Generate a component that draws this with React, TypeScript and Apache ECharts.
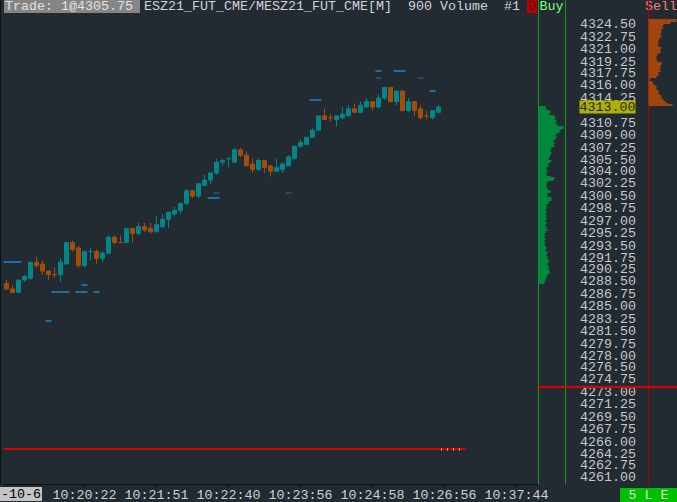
import React, { useEffect, useRef } from 'react';
import * as echarts from 'echarts';

// ---------- data ----------
const candleOpen = [
  4288.25, 4287.5, 4287.0, 4288.75, 4289.0, 4291.25, 4291.0, 4290.0, 4289.5, 4289.5,
  4291.0, 4294.0, 4293.25, 4290.75, 4292.75, 4292.75, 4291.75, 4292.5, 4294.75, 4294.0,
  4294.0, 4296.0, 4295.25, 4296.25, 4296.0, 4295.5, 4296.25, 4297.25, 4298.0, 4298.5,
  4299.5, 4301.25, 4300.5, 4302.0, 4302.75, 4303.75, 4305.25, 4305.75, 4305.25, 4307.0,
  4306.25, 4305.0, 4304.25, 4305.5, 4304.75, 4304.0, 4304.25, 4304.75, 4305.75, 4307.5,
  4307.75, 4308.75, 4309.75, 4311.75, 4311.5, 4311.25, 4311.5, 4311.75, 4312.75, 4312.25,
  4313.0, 4313.75, 4313.0, 4314.25, 4315.75, 4313.75, 4315.25, 4312.5, 4313.75, 4312.75,
  4311.75, 4311.5, 4312.25,
];
const candleClose = [
  4287.5, 4287.0, 4288.75, 4289.25, 4291.25, 4290.75, 4290.0, 4289.5, 4289.5, 4291.25,
  4294.0, 4293.0, 4290.75, 4292.75, 4292.75, 4291.75, 4292.5, 4294.75, 4294.0, 4294.0,
  4296.0, 4295.25, 4296.25, 4295.75, 4295.5, 4296.5, 4297.25, 4298.25, 4298.5, 4299.5,
  4301.25, 4300.5, 4302.25, 4302.75, 4303.75, 4305.25, 4305.5, 4305.75, 4307.0, 4306.25,
  4304.75, 4304.25, 4305.5, 4304.5, 4304.0, 4304.5, 4305.0, 4306.0, 4307.5, 4308.0,
  4308.75, 4309.75, 4311.75, 4311.25, 4311.5, 4311.75, 4312.0, 4312.75, 4312.25, 4313.25,
  4313.75, 4313.0, 4314.25, 4315.75, 4313.75, 4315.25, 4312.5, 4313.75, 4312.5, 4311.5,
  4311.75, 4312.5, 4313.0,
];
const candleLow = [
  4287.25, 4287.0, 4287.0, 4288.5, 4288.75, 4290.5, 4289.5, 4288.75, 4289.0, 4288.5,
  4291.0, 4292.75, 4290.5, 4290.5, 4291.5, 4291.0, 4291.25, 4292.5, 4293.75, 4294.0,
  4294.0, 4294.0, 4295.0, 4295.5, 4295.25, 4295.5, 4296.0, 4296.0, 4297.75, 4298.0,
  4299.25, 4300.25, 4300.25, 4302.0, 4302.25, 4303.5, 4304.75, 4304.5, 4305.25, 4306.0,
  4304.75, 4303.75, 4304.0, 4303.75, 4303.25, 4304.0, 4303.75, 4304.75, 4305.75, 4307.25,
  4307.75, 4308.75, 4309.75, 4311.25, 4311.0, 4310.25, 4311.25, 4311.75, 4312.25, 4312.25,
  4313.0, 4312.5, 4312.75, 4314.0, 4313.75, 4313.25, 4312.5, 4312.25, 4311.75, 4311.25,
  4311.25, 4311.25, 4312.25,
];
const candleHigh = [
  4288.75, 4288.0, 4288.75, 4289.5, 4291.25, 4292.0, 4291.5, 4290.0, 4290.5, 4291.75,
  4294.0, 4294.25, 4293.5, 4292.75, 4293.25, 4293.0, 4292.75, 4295.0, 4295.0, 4295.0,
  4296.0, 4296.0, 4296.75, 4296.75, 4296.75, 4297.75, 4298.0, 4298.25, 4299.0, 4299.5,
  4301.5, 4301.25, 4302.25, 4303.5, 4303.75, 4305.75, 4305.75, 4306.0, 4307.25, 4307.25,
  4306.75, 4305.75, 4305.75, 4305.5, 4304.75, 4305.75, 4305.25, 4306.25, 4307.5, 4308.5,
  4308.75, 4310.0, 4311.75, 4312.75, 4312.0, 4311.75, 4313.0, 4313.25, 4313.5, 4313.75,
  4314.25, 4313.75, 4314.75, 4315.75, 4315.75, 4315.25, 4315.25, 4314.25, 4313.75, 4313.25,
  4312.5, 4312.5, 4313.25,
];
// doji bars (open == close) that printed as up bars
const dojiUp = [14, 37];

const slotCount = 89;
const timeLabels = ['10:20:22', '10:21:51', '10:22:40', '10:23:56', '10:24:58', '10:26:56', '10:37:44'];
const timeLabelSlots = [13, 25, 37, 49, 61, 73, 85];

const priceLabels = [
  4324.5, 4322.75, 4321.0, 4319.25, 4317.75, 4316.0, 4314.25, 4310.75, 4309.0,
  4307.25, 4305.5, 4304.0, 4302.25, 4300.5, 4298.75, 4297.0, 4295.25, 4293.5, 4291.75,
  4290.25, 4288.5, 4286.75, 4285.0, 4283.25, 4281.5, 4279.75, 4278.0, 4276.5, 4274.75,
  4273.0, 4271.25, 4269.5, 4267.75, 4266.0, 4264.25, 4262.75, 4261.0,
];
const priceAxisMin = 4260.15;
const priceAxisMax = 4328.0;
const lastPrice = 4313.0;
const tickSize = 0.25;

// volume profile (one value per tick, from the top price downward)
const buyTopPrice = 4313.0;
const buyVolumes = [
  7, 8, 11, 12, 11, 16, 17, 16, 18, 17,
  19, 25, 25, 22, 21, 18, 17, 18, 17, 15,
  16, 15, 16, 13, 12, 12, 13, 12, 11, 10,
  13, 12, 10, 10, 8, 8, 9, 8, 8, 12,
  16, 15, 9, 8, 8, 8, 9, 12, 12, 9,
  9, 13, 13, 11, 10, 8, 8, 8, 7, 8,
  7, 8, 7, 8, 7, 8, 7, 8, 8, 9,
  7, 6, 7, 6, 7, 6, 7, 6, 7, 8,
  7, 8, 9, 8, 9, 9, 10, 10, 9, 10,
  11, 10, 11, 11, 9, 8, 8, 7, 6, 6,
];
const sellTopPrice = 4325.25;
const sellVolumes = [
  28, 28, 22, 15, 14, 15, 13, 13, 12, 13,
  12, 11, 10, 10, 9, 10, 13, 12, 12, 11,
  9, 8, 8, 9, 13, 13, 12, 12, 11, 12,
  10, 10, 8, 2, 1, 4, 5, 7, 8, 8,
  10, 10, 11, 13, 13, 15, 17, 20, 24,
];

// resting levels (first slot, last slot, price, strong)
const levelStart = [0, 13, 8, 12, 15, 7, 34, 35, 47, 51, 62, 65, 62, 69, 71];
const levelEnd = [2, 13, 10, 13, 15, 7, 35, 35, 47, 52, 62, 66, 62, 69, 71];
const levelPrice = [
  4291.25, 4288.0, 4287.0, 4287.0, 4287.0, 4283.0, 4300.25, 4301.0, 4301.0, 4314.0,
  4318.0, 4318.0, 4317.0, 4317.0, 4315.25,
];
const levelStrong = [1, 1, 1, 1, 1, 1, 1, 0, 0, 1, 1, 1, 0, 0, 1];

const stopPrice = 4265.0;
const stopFirstSlot = 0;
const stopLastSlot = 76;
const stopMarkSlots = [72, 73, 74, 75];
const profileLinePrice = 4273.75;

// ---------- styles ----------
const BG = '#222b32';
const FONT = '"Liberation Mono", "DejaVu Sans Mono", monospace';
const FS = 13.33;
const UP = '#00878a';
const DOWN = '#a24e08';

export default function App() {
  const ref = useRef<HTMLDivElement>(null);

  useEffect(() => {
    if (!ref.current) return;
    document.body.style.margin = '0';
    document.body.style.background = BG;
    const chart = echarts.init(ref.current, undefined, { renderer: 'svg' });

    const categories = Array.from({ length: slotCount }, (_, i) => String(i));
    const labelMap = new Map<number, string>();
    timeLabelSlots.forEach((s, k) => labelMap.set(s, timeLabels[k]));

    const candleData = candleOpen.map((o, i) => {
      const c = candleClose[i];
      const up = c > o || (c === o && dojiUp.includes(i));
      const col = up ? UP : DOWN;
      return {
        value: [o, c, candleLow[i], candleHigh[i]],
        itemStyle: { color: col, color0: col, borderColor: col, borderColor0: col, borderColorDoji: col },
      };
    });

    const levelData = levelStart.map((s, i) => [s, levelPrice[i], levelEnd[i], levelStrong[i]]);

    const segmentRender = (fill: string, thick: number, thin: number) => (params: any, api: any) => {
      const s = api.value(0);
      const p = api.value(1);
      const e = api.value(2);
      const strong = api.value(3);
      const a = api.coord([s, p]);
      const b = api.coord([e, p]);
      const band = api.size([1, 0])[0];
      const h = strong ? thick : thin;
      const x0 = a[0] - band / 2;
      const x1 = b[0] + band / 2;
      const yc = Math.round(a[1]);
      return {
        type: 'rect',
        shape: { x: x0, y: yc - h / 2, width: x1 - x0, height: h },
        style: { fill },
      };
    };

    const profileRender = (fill: string) => (params: any, api: any) => {
      const v = api.value(0);
      const p = api.value(1);
      const a = api.coord([0, p + tickSize / 2]);
      const b = api.coord([v, p - tickSize / 2]);
      const y0 = Math.round(a[1]);
      const y1 = Math.round(b[1]);
      return {
        type: 'rect',
        shape: { x: a[0], y: y0, width: b[0] - a[0], height: Math.max(1, y1 - y0) },
        style: { fill },
      };
    };

    const buyData = buyVolumes.map((v, k) => [v, buyTopPrice - k * tickSize]);
    const sellData = sellVolumes.map((v, k) => [v, sellTopPrice - k * tickSize]);

    const hiddenValueAxis = (gridIndex: number, min: number, max: number) => ({
      type: 'value', gridIndex, min, max, show: false,
      splitLine: { show: false },
    });
    const priceAxisBase = {
      type: 'value', min: priceAxisMin, max: priceAxisMax, scale: true,
      splitLine: { show: false }, axisTick: { show: false },
    };
    // two interleaved label axes so neighbouring labels never get auto-hidden
    const labelAxis = (values: number[]) => ({
      ...priceAxisBase, gridIndex: 0, position: 'right', offset: 0,
      axisLine: { show: false },
      axisLabel: {
        show: true, customValues: values,
        showMinLabel: true, showMaxLabel: true, hideOverlap: false,
        formatter: (v: number) => v.toFixed(2),
        color: '#c8c8c8', fontFamily: FONT, fontSize: FS, margin: 42.5, lineHeight: 11,
      },
    });

    const option: any = {
      animation: false,
      backgroundColor: BG,
      grid: [
        { left: 3.5, top: 0, width: 534, height: 484 },
        { left: 538.5, top: 0, width: 27, height: 484 },
        { left: 648.5, top: 0, width: 28.5, height: 484 },
        { left: 537.5, top: 0, width: 139.5, height: 484 },
      ],
      xAxis: [
        {
          type: 'category', gridIndex: 0, data: categories, boundaryGap: true,
          axisLine: { show: true, onZero: false, lineStyle: { color: '#0b0e11', width: 1 } },
          axisTick: {
            show: true, alignWithLabel: true, length: 4,
            interval: (i: number) => labelMap.has(i),
            lineStyle: { color: '#0b0e11' },
          },
          axisLabel: {
            show: true,
            interval: (i: number) => labelMap.has(i),
            formatter: (v: string) => labelMap.get(Number(v)) ?? '',
            color: '#d0d0d0', fontFamily: FONT, fontSize: FS, margin: 4, lineHeight: 14,
          },
          splitLine: { show: false },
        },
        hiddenValueAxis(1, 0, 27),
        hiddenValueAxis(2, 0, 28.5),
        hiddenValueAxis(3, 0, 139.5),
      ],
      yAxis: [
        labelAxis(priceLabels.filter((_, i) => i % 2 === 0)),
        {
          ...priceAxisBase, gridIndex: 1, position: 'left',
          axisLine: { show: true, onZero: false, lineStyle: { color: '#149a14', width: 1 } },
          axisLabel: { show: false },
        },
        {
          ...priceAxisBase, gridIndex: 1, position: 'right',
          axisLine: { show: true, onZero: false, lineStyle: { color: '#149a14', width: 1 } },
          axisLabel: { show: false },
        },
        {
          ...priceAxisBase, gridIndex: 2, position: 'left',
          axisLine: { show: true, onZero: false, lineStyle: { color: '#b00000', width: 1 } },
          axisLabel: { show: false },
        },
        {
          ...priceAxisBase, gridIndex: 3, show: false,
        },
        labelAxis(priceLabels.filter((_, i) => i % 2 === 1)),
      ],
      series: [
        {
          type: 'candlestick', name: 'ESZ21', xAxisIndex: 0, yAxisIndex: 0,
          barWidth: 4, data: candleData,
          itemStyle: { borderWidth: 1 },
        },
        {
          type: 'custom', name: 'levels', xAxisIndex: 0, yAxisIndex: 0,
          renderItem: segmentRender('#1c6fa4', 2, 1),
          data: levelData,
        },
        {
          type: 'custom', name: 'stop', xAxisIndex: 0, yAxisIndex: 0,
          renderItem: segmentRender('#d80000', 2, 2),
          data: [[stopFirstSlot, stopPrice, stopLastSlot, 1]],
          z: 3,
        },
        {
          type: 'scatter', name: 'marks', xAxisIndex: 0, yAxisIndex: 0,
          symbol: 'rect', symbolSize: [1, 2], symbolOffset: [3, 0],
          itemStyle: { color: '#ffffff' },
          data: stopMarkSlots.map((s) => [s, stopPrice]),
          z: 4,
        },
        {
          type: 'custom', name: 'Buy', xAxisIndex: 1, yAxisIndex: 1,
          renderItem: profileRender('#00883c'),
          data: buyData,
        },
        {
          type: 'custom', name: 'Sell', xAxisIndex: 2, yAxisIndex: 3,
          renderItem: profileRender('#a0460c'),
          data: sellData, clip: true,
        },
        {
          type: 'scatter', name: 'last', xAxisIndex: 3, yAxisIndex: 4,
          symbolSize: 0, data: [[42, lastPrice]], z: 5,
          label: {
            show: true, position: 'right', distance: 0,
            formatter: () => lastPrice.toFixed(2),
            color: '#000000', backgroundColor: '#d2d200',
            fontFamily: FONT, fontSize: FS, lineHeight: 13, padding: [0, 0, 0, 0],
          },
          markLine: {
            silent: true, symbol: ['none', 'none'],
            label: { show: false },
            lineStyle: { color: '#e00000', width: 2, type: 'solid' },
            data: [{ yAxis: profileLinePrice }],
          },
        },
      ],
      graphic: [
        { type: 'rect', shape: { x: 0, y: 0, width: 1, height: 484 }, style: { fill: '#0d1014' } },
        { type: 'rect', shape: { x: 4, y: 0, width: 136, height: 13 }, style: { fill: '#858585' } },
        { type: 'text', style: { text: 'Trade: 1@4305.75', x: 5, y: 0, fill: '#e2e2e2', font: `${FS}px ${FONT}`, verticalAlign: 'top', textVerticalAlign: 'top' } },
        { type: 'text', style: { text: 'ESZ21_FUT_CME/MESZ21_FUT_CME[M]', x: 144, y: 0, fill: '#d4d4d4', font: `${FS}px ${FONT}`, verticalAlign: 'top', textVerticalAlign: 'top' } },
        { type: 'text', style: { text: '900 Volume', x: 408, y: 0, fill: '#d4d4d4', font: `${FS}px ${FONT}`, verticalAlign: 'top', textVerticalAlign: 'top' } },
        { type: 'text', style: { text: '#1', x: 504, y: 0, fill: '#d4d4d4', font: `${FS}px ${FONT}`, verticalAlign: 'top', textVerticalAlign: 'top' } },
        { type: 'rect', shape: { x: 527, y: 0, width: 10, height: 13 }, style: { fill: '#c00000' } },
        { type: 'text', style: { text: 'D', x: 528, y: 0, fill: '#5c0000', font: `${FS}px ${FONT}`, verticalAlign: 'top', textVerticalAlign: 'top' } },
        { type: 'text', style: { text: 'Buy', x: 539.5, y: 0, fill: '#7dff7d', font: `${FS}px ${FONT}`, verticalAlign: 'top', textVerticalAlign: 'top' } },
        { type: 'text', style: { text: 'Sell', x: 645, y: 0, fill: '#ff7a7a', font: `${FS}px ${FONT}`, verticalAlign: 'top', textVerticalAlign: 'top' } },
        { type: 'rect', shape: { x: 0, y: 487, width: 42, height: 14 }, style: { fill: '#c4c4c4' } },
        { type: 'text', style: { text: '-10-6', x: 1, y: 488, fill: '#000000', font: `${FS}px ${FONT}`, verticalAlign: 'top', textVerticalAlign: 'top' } },
        { type: 'rect', shape: { x: 620, y: 488, width: 57, height: 14 }, style: { fill: '#00c000' } },
        { type: 'text', style: { text: '5 L E', x: 648.5, y: 489, fill: '#d8e8d8', font: `${FS}px ${FONT}`, align: 'center', textAlign: 'center', verticalAlign: 'top', textVerticalAlign: 'top' } },
      ],
    };

    chart.setOption(option);
    return () => chart.dispose();
  }, []);

  return (
    <div
      ref={ref}
      style={{ position: 'absolute', left: 0, top: 0, width: 677, height: 502, background: BG }}
    />
  );
}
